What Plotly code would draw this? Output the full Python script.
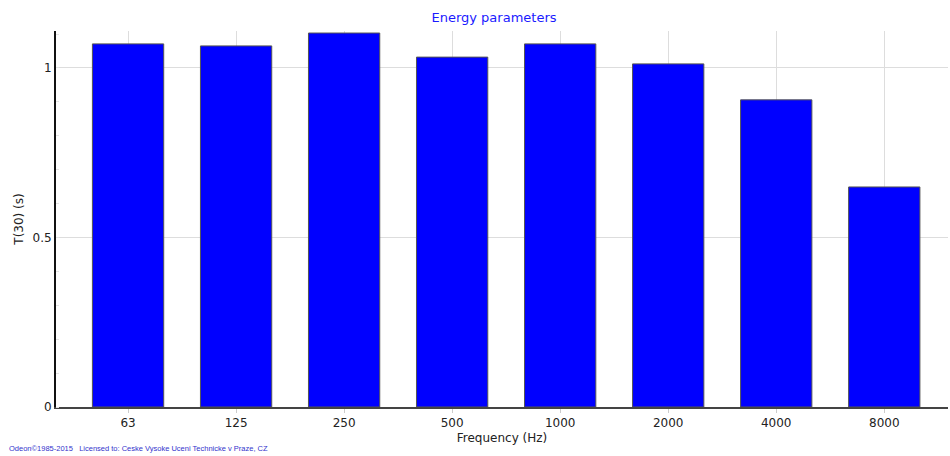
import plotly.graph_objects as go

# Reverberation time T(30) per octave band
frequencies = ["63", "125", "250", "500", "1000", "2000", "4000", "8000"]
t30_values = [1.071, 1.065, 1.103, 1.032, 1.071, 1.012, 0.906, 0.649]

fig = go.Figure()
fig.add_trace(go.Bar(
    x=frequencies,
    y=t30_values,
    width=0.66,
    marker=dict(color="#0000FF", line=dict(color="#555555", width=1)),
    hoverinfo="x+y",
))

fig.update_layout(
    width=950,
    height=456,
    margin=dict(l=56, r=2, t=31, b=49),
    paper_bgcolor="white",
    plot_bgcolor="white",
    font=dict(family="DejaVu Sans, Verdana, sans-serif", size=12, color="#222222"),
    title=dict(
        text="Energy parameters",
        x=0.52, xanchor="center",
        y=0.962, yanchor="middle",
        font=dict(size=13, color="#1a1aff"),
    ),
    showlegend=False,
)

fig.update_xaxes(
    type="category",
    range=[-0.667, 7.59],
    showgrid=True,
    gridcolor="#dddddd",
    gridwidth=1,
    showline=True,
    linecolor="#444444",
    linewidth=2,
    ticks="outside",
    ticklen=4,
    tickcolor="#cccccc",
    title=dict(text="Frequency (Hz)", standoff=4, font=dict(size=12)),
    tickfont=dict(size=12),
)

fig.update_yaxes(
    range=[0, 1.109],
    tickvals=[0, 0.5, 1],
    ticktext=["0", "0.5", "1"],
    showgrid=True,
    gridcolor="#dddddd",
    gridwidth=1,
    zeroline=False,
    showline=True,
    linecolor="#111111",
    linewidth=2,
    ticks="",
    minor=dict(dtick=0.1, ticks="inside", ticklen=3, tickcolor="#e4e4e4", showgrid=False),
    title=dict(text="T(30) (s)", standoff=6, font=dict(size=12)),
    tickfont=dict(size=12),
)

fig.add_annotation(
    text="Odeon©1985-2015   Licensed to: Ceske Vysoke Uceni Technicke v Praze, CZ",
    xref="paper", yref="paper",
    x=-0.055, y=-0.11,
    xanchor="left", yanchor="middle",
    showarrow=False,
    font=dict(size=7.5, color="#3333cc", family="Liberation Sans, Arial, sans-serif"),
)

fig.write_html("out.html")
